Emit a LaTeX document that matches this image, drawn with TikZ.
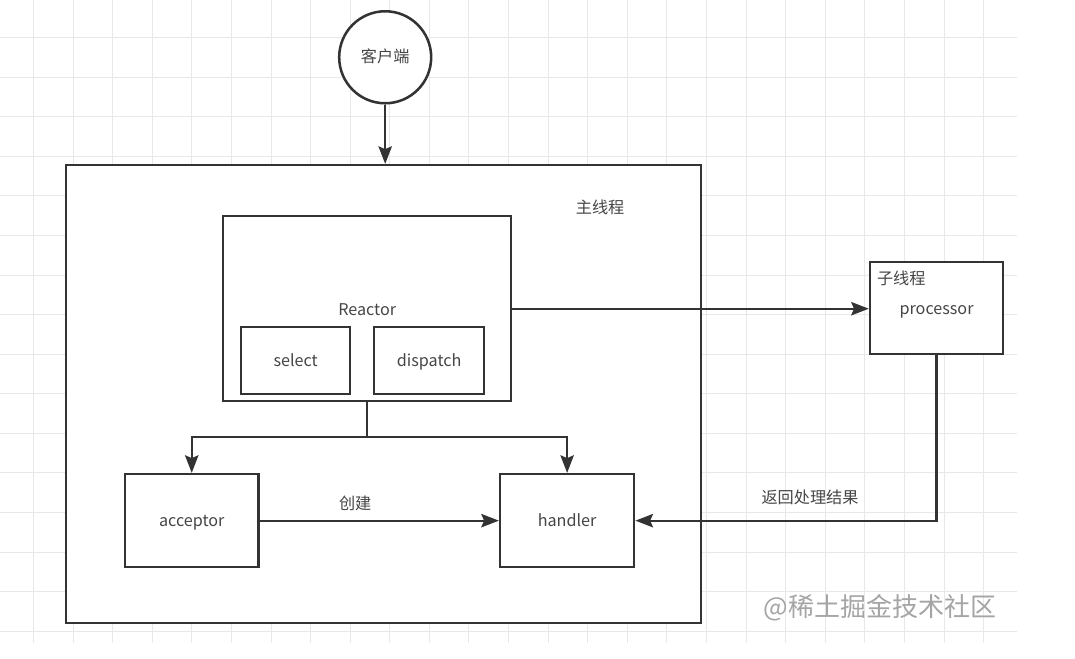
\documentclass[tikz,border=0pt]{standalone}
\usepackage{fontspec}
\setmainfont{Noto Sans CJK SC}
\usepackage{tikz}
\usetikzlibrary{arrows.meta,positioning,calc}
\definecolor{linegray}{RGB}{51,51,51}
\definecolor{gridgray}{RGB}{232,232,232}
\definecolor{textgray}{RGB}{70,70,70}
\definecolor{markgray}{RGB}{165,165,165}

\begin{document}
\begin{tikzpicture}[
    x=0.025cm, y=-0.025cm,
    box/.style={rectangle, draw=linegray, line width=1.8pt, fill=white, inner sep=0pt, text=textgray, font=\fontsize{11.5}{14}\selectfont, text height=1.9ex, text depth=0.25ex},
    arrow/.style={-{Stealth[length=12.5pt,width=9.5pt,inset=2pt]}, line width=1.6pt, draw=linegray},
    tag/.style={text=textgray, font=\fontsize{11.5}{14}\selectfont}
]
% Background grid
\fill[white] (0,0) rectangle (1075,658);
\foreach \gx in {33,72.6,...,1017} \draw[gridgray] (\gx,0) -- (\gx,643);
\foreach \gy in {37,76.6,...,643} \draw[gridgray] (0,\gy) -- (1017,\gy);
\useasboundingbox (0,0) rectangle (1075,658);

% Nodes
\node[box, circle, minimum size=2.3cm, text height=1.7ex, text depth=0.3ex] (client) at (385,57) {客户端};
\node[box, minimum width=15.875cm, minimum height=11.45cm] (main) at (383.5,394) {};
\node[box, minimum width=7.2cm, minimum height=4.625cm] (reactor) at (367,308.5) {};
\node[tag] (reactorname) at (367,309) {Reactor};
\node[box, minimum width=2.725cm, minimum height=1.675cm] (select) at (295.5,360.5) {select};
\node[box, minimum width=2.75cm, minimum height=1.675cm] (dispatch) at (429,360.5) {dispatch};
\node[box, minimum width=3.325cm, minimum height=2.3cm] (proc) at (936.5,308) {processor};
\node[box, minimum width=3.325cm, minimum height=2.325cm] (acceptor) at (191.5,520.5) {acceptor};
\node[box, minimum width=3.35cm, minimum height=2.325cm] (handler) at (567,520.5) {handler};

% Labels
\node[tag] (mainname) at (600,207) {主线程};
\node[tag, anchor=north west, inner sep=0pt] (procname) at ($(proc.north west)+(8,10)$) {子线程};
\node[text=markgray, font=\fontsize{18.5}{22}\selectfont] (mark) at (880,608) {@稀土掘金技术社区};

% Arrows
\coordinate (fork) at (367,437);
\draw[arrow] (client) -- (client |- main.north);
\draw[arrow] (reactor.east) -- (reactor.east -| proc.west);
\draw[line width=1.6pt, draw=linegray] (reactor.south) -- (fork);
\draw[arrow] (fork) -| (acceptor.north);
\draw[arrow] (fork) -| (handler.north);
\draw[arrow] (acceptor) -- node[tag, above, pos=0.4, yshift=3pt] {创建} (handler);
\draw[arrow] (proc.south) |- node[tag, above, pos=0.71, yshift=7pt] {返回处理结果} (handler.east);
\end{tikzpicture}
\end{document}
